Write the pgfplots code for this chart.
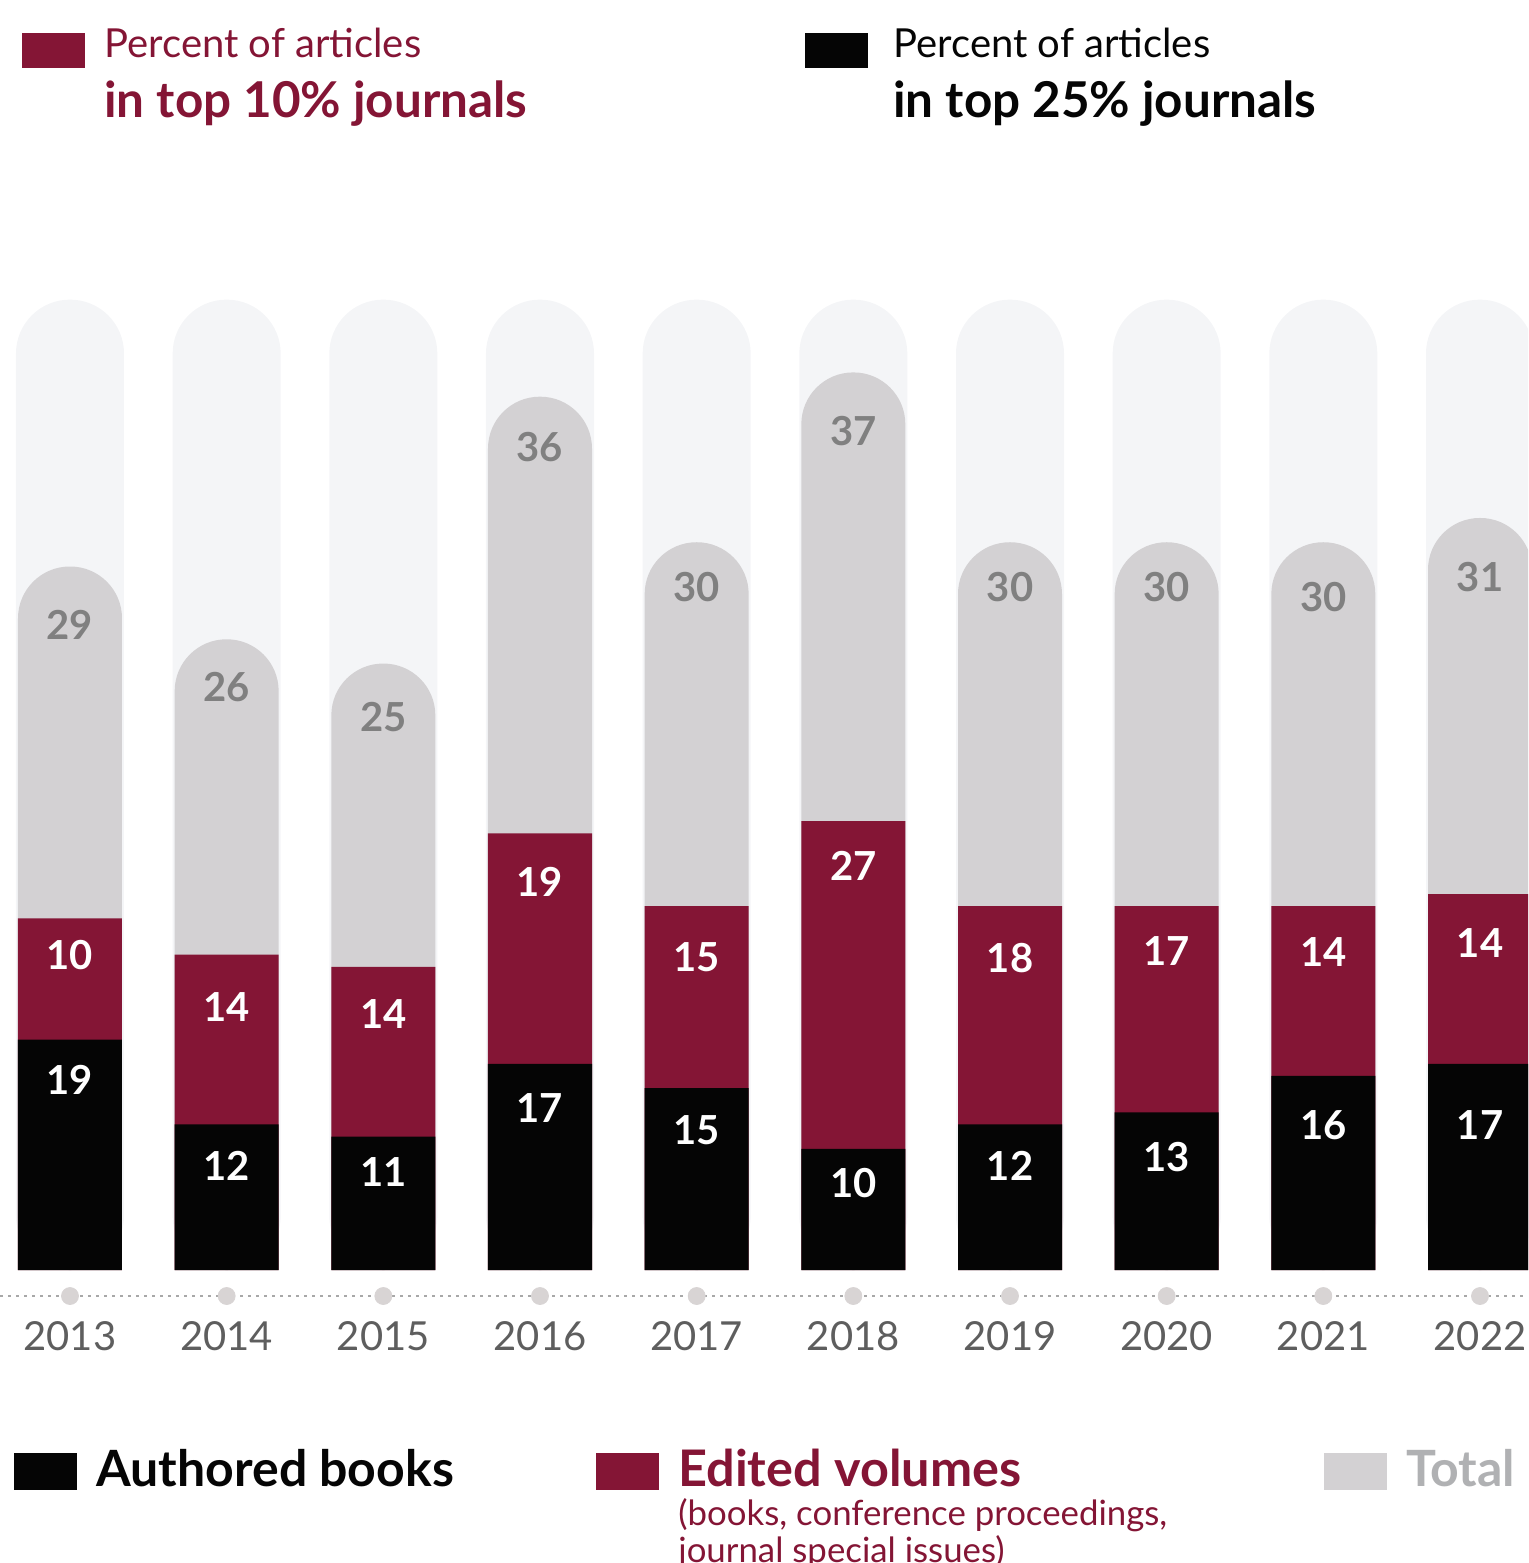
\documentclass[border=0pt]{standalone}
\usepackage{pgfplots}
\pgfplotsset{compat=1.18}
\usepackage{pgfplotstable}
\usepackage{fontspec}
\setmainfont{Lato}

\definecolor{maroon}{HTML}{841535}
\definecolor{blk}{HTML}{050505}
\definecolor{barGrey}{HTML}{D3D1D3}
\definecolor{pill}{HTML}{F4F5F7}
\definecolor{numGrey}{HTML}{808080}
\definecolor{yearGrey}{HTML}{5E5E5E}
\definecolor{dotGrey}{HTML}{D8D4D4}
\definecolor{lineGrey}{HTML}{A8A8A8}
\definecolor{totGrey}{HTML}{B0B1B3}

% b = authored books, m = edited volumes, t = total
% bg = height of the pale backdrop, lb/lm/lt = label drop below segment top (px)
\pgfplotstableread{
x b  m  t  bg lb lm lt
0 19 10 29 80 40 37 58
1 12 14 26 80 41 52 48
2 11 14 25 80 35 47 53
3 17 19 36 80 44 49 50
4 15 15 30 80 42 51 45
5 10 27 37 80 34 45 59
6 12 18 30 80 41 52 45
7 13 17 30 80 45 45 45
8 16 14 30 80 49 46 55
9 17 14 31 80 61 49 59
}\pubdata

\begin{document}
\begin{tikzpicture}
\useasboundingbox (0,0) rectangle (764pt,-781.5pt);
\clip (0,0) rectangle (764pt,-781.5pt);

\begin{axis}[
    at={(0pt,-648pt)}, anchor=south west,
    x=78.333pt, y=6.065pt,
    xmin=-0.4468, xmax=9.306,
    ymin=-2.14, ymax=82,
    clip=false,
    /pgf/number format/assume math mode=true,
    axis y line=none, axis x line=bottom,
    x axis line style={-, draw=lineGrey, line width=0.9pt, dash pattern=on 1.6pt off 2.4pt},
    xtick={0,...,9},
    xticklabels={2013,2014,2015,2016,2017,2018,2019,2020,2021,2022},
    major tick length=0pt, xtick style={draw=none},
    xticklabel style={font=\fontsize{20}{24}\selectfont, text=yearGrey,
        anchor=base, inner sep=0pt, yshift=-27pt},
    ytick=\empty,
]

% pale backdrop
\addplot[ybar, bar width=54pt, bar shift=0pt, fill=pill, draw=none,
    rounded corners=26.9pt]
    table[x=x, y=bg]{\pubdata};

% total, stacked above the two others
\addplot[ybar, bar width=52pt, bar shift=0pt, fill=barGrey, draw=none,
    rounded corners=25.9pt,
    nodes near coords, point meta=explicit,
    visualization depends on={\thisrow{lt}\as\lofs},
    every node near coord/.append style={text=numGrey, anchor=center, inner sep=0pt,
        font=\bfseries\fontsize{20}{24}\selectfont, yshift={-0.5pt*\lofs}}]
    table[x=x, y expr=\thisrow{b}+\thisrow{m}+\thisrow{t}, meta=t]{\pubdata};

% edited volumes
\addplot[ybar, bar width=52pt, bar shift=0pt, fill=maroon, draw=none,
    nodes near coords, point meta=explicit,
    visualization depends on={\thisrow{lm}\as\lofs},
    every node near coord/.append style={text=white, anchor=center, inner sep=0pt,
        font=\bfseries\fontsize{20}{24}\selectfont, yshift={-0.5pt*\lofs}}]
    table[x=x, y expr=\thisrow{b}+\thisrow{m}, meta=m]{\pubdata};

% authored books
\addplot[ybar, bar width=52pt, bar shift=0pt, fill=blk, draw=none,
    nodes near coords, point meta=explicit,
    visualization depends on={\thisrow{lb}\as\lofs},
    every node near coord/.append style={text=white, anchor=center, inner sep=0pt,
        font=\bfseries\fontsize{20}{24}\selectfont, yshift={-0.5pt*\lofs}}]
    table[x=x, y=b, meta=b]{\pubdata};

% dots on the axis line
\addplot[only marks, mark=*, color=dotGrey, mark size=4.25pt,
    mark options={draw=dotGrey, fill=dotGrey}]
    coordinates {(0,-2.14) (1,-2.14) (2,-2.14) (3,-2.14) (4,-2.14)
                 (5,-2.14) (6,-2.14) (7,-2.14) (8,-2.14) (9,-2.14)};
\end{axis}

\begin{scope}[x=0.5pt, y=-0.5pt]
  % top keys
  \fill[maroon] (22,33) rectangle (85,68);
  \node[anchor=base west, inner sep=0pt, text=maroon, font=\fontsize{20}{24}\selectfont]
      at (104,57) {Percent of articles};
  \node[anchor=base west, inner sep=0pt, text=maroon, font=\bfseries\fontsize{24.7}{30}\selectfont]
      at (104,117) {in top 10\% journals};
  \fill[blk] (805,33) rectangle (868,68);
  \node[anchor=base west, inner sep=0pt, text=blk, font=\fontsize{20}{24}\selectfont]
      at (893,57) {Percent of articles};
  \node[anchor=base west, inner sep=0pt, text=blk, font=\bfseries\fontsize{24.7}{30}\selectfont]
      at (893,117) {in top 25\% journals};

  % bottom keys
  \fill[blk] (14,1453) rectangle (77,1490);
  \node[anchor=base west, inner sep=0pt, text=blk, font=\bfseries\fontsize{25}{30}\selectfont]
      at (96,1486) {Authored books};
  \fill[maroon] (596,1453) rectangle (659,1490);
  \node[anchor=base west, inner sep=0pt, text=maroon, font=\bfseries\fontsize{25.2}{30}\selectfont]
      at (678,1486) {Edited volumes};
  \node[anchor=base west, inner sep=0pt, text=maroon, font=\fontsize{17.4}{20}\selectfont]
      at (678,1525) {(books, conference proceedings,};
  \node[anchor=base west, inner sep=0pt, text=maroon, font=\fontsize{17.4}{20}\selectfont]
      at (678,1562) {journal special issues)};
  \fill[barGrey] (1324,1453) rectangle (1387,1490);
  \node[anchor=base west, inner sep=0pt, text=totGrey, font=\bfseries\fontsize{25}{30}\selectfont]
      at (1406,1486) {Total};
\end{scope}
\end{tikzpicture}
\end{document}
